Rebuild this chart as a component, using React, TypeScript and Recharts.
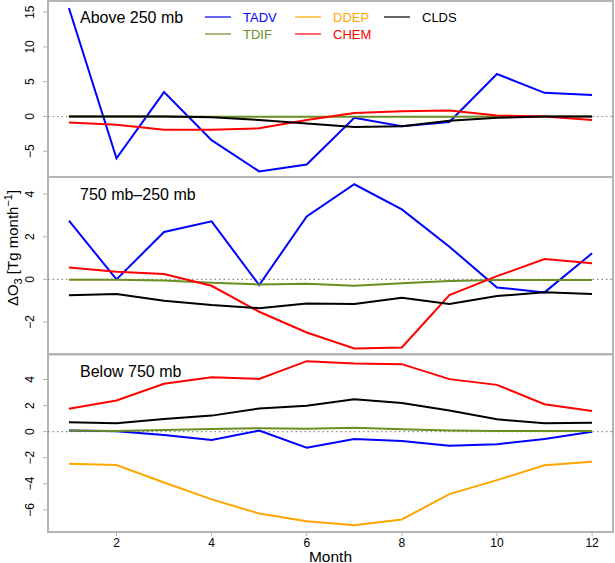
import React from 'react';
import { LineChart, Line, XAxis, YAxis, ReferenceLine, ReferenceArea } from 'recharts';

const months = [1, 2, 3, 4, 5, 6, 7, 8, 9, 10, 11, 12];
const monthTicks = [2, 4, 6, 8, 10, 12];

// Above 250 mb
const tadvHigh = [15.6, -6.0, 3.5, -3.4, -7.9, -6.9, -0.2, -1.4, -0.8, 6.1, 3.4, 3.1];
const tdifHigh = [0, 0, 0, -0.05, -0.05, -0.05, -0.05, -0.05, -0.05, 0, 0, 0];
const chemHigh = [-0.85, -1.2, -1.9, -1.9, -1.7, -0.5, 0.5, 0.75, 0.85, 0.15, 0, -0.5];
const cldsHigh = [0, 0, 0, -0.1, -0.5, -1.0, -1.5, -1.4, -0.6, -0.2, 0, 0];

// 750 mb - 250 mb
const tadvMid = [2.75, 0, 2.22, 2.72, -0.27, 2.95, 4.46, 3.28, 1.53, -0.38, -0.61, 1.22];
const tdifMid = [-0.02, -0.02, -0.05, -0.16, -0.24, -0.2, -0.3, -0.18, -0.08, -0.03, -0.03, -0.03];
const chemMid = [0.56, 0.36, 0.25, -0.3, -1.52, -2.49, -3.24, -3.19, -0.74, 0.15, 0.95, 0.75];
const cldsMid = [-0.74, -0.69, -1.0, -1.2, -1.35, -1.13, -1.16, -0.86, -1.16, -0.78, -0.61, -0.69];

// Below 750 mb
const tadvLow = [0.08, 0.03, -0.25, -0.64, 0.08, -1.23, -0.56, -0.72, -1.08, -0.97, -0.56, 0];
const tdifLow = [0.08, 0.05, 0.12, 0.2, 0.27, 0.22, 0.3, 0.18, 0.08, 0.05, 0.05, 0.05];
const ddepLow = [-2.46, -2.56, -3.9, -5.2, -6.28, -6.87, -7.18, -6.74, -4.79, -3.72, -2.58, -2.31];
const chemLow = [1.75, 2.39, 3.67, 4.18, 4.05, 5.41, 5.23, 5.18, 4.03, 3.59, 2.1, 1.59];
const cldsLow = [0.72, 0.64, 0.97, 1.23, 1.77, 1.98, 2.49, 2.2, 1.62, 0.95, 0.64, 0.69];

const COLORS: Record<string, string> = {
  TADV: '#0000ff',
  TDIF: '#6b8e23',
  DDEP: '#ffa500',
  CHEM: '#ff0000',
  CLDS: '#000000',
};
const DRAW_ORDER = ['TADV', 'DDEP', 'TDIF', 'CHEM', 'CLDS'];
const FONT = '"Liberation Sans", Arial, Helvetica, sans-serif';
const FRAME = '#b3b3b3';
const X_DOMAIN: [number, number] = [0.56, 12.44];

function rows(series: Record<string, number[]>) {
  return months.map((m, i) => {
    const row: Record<string, number> = { month: m };
    Object.keys(series).forEach((k) => (row[k] = series[k][i]));
    return row;
  });
}

const panels = [
  {
    title: 'Above 250 mb',
    data: rows({ TADV: tadvHigh, TDIF: tdifHigh, CHEM: chemHigh, CLDS: cldsHigh }),
    keys: ['TADV', 'TDIF', 'CHEM', 'CLDS'],
    domain: [-8.7, 16.6] as [number, number],
    ticks: [-5, 0, 5, 10, 15],
    top: 0,
    height: 177,
    marginTop: 1,
    showX: false,
  },
  {
    title: '750 mb\u2013250 mb',
    data: rows({ TADV: tadvMid, TDIF: tdifMid, CHEM: chemMid, CLDS: cldsMid }),
    keys: ['TADV', 'TDIF', 'CHEM', 'CLDS'],
    domain: [-3.5, 4.8] as [number, number],
    ticks: [-2, 0, 2, 4],
    top: 177,
    height: 177,
    marginTop: 0,
    showX: false,
  },
  {
    title: 'Below 750 mb',
    data: rows({ TADV: tadvLow, TDIF: tdifLow, DDEP: ddepLow, CHEM: chemLow, CLDS: cldsLow }),
    keys: ['TADV', 'DDEP', 'TDIF', 'CHEM', 'CLDS'],
    domain: [-7.7, 5.92] as [number, number],
    ticks: [-6, -4, -2, 0, 2, 4],
    top: 354,
    height: 209,
    marginTop: 0.5,
    showX: true,
  },
];

const legendItems = [
  { name: 'TADV', x: 243, y: 17 },
  { name: 'TDIF', x: 243, y: 34 },
  { name: 'DDEP', x: 333, y: 17 },
  { name: 'CHEM', x: 333, y: 34 },
  { name: 'CLDS', x: 422, y: 17 },
];

const fmt = (v: number) => (v < 0 ? '\u2212' + Math.abs(v) : String(v));

function YTick(props: any) {
  const { y, payload } = props;
  return (
    <text
      transform={`translate(34,${y}) rotate(-90)`}
      textAnchor="middle"
      fontSize={12}
      fontFamily={FONT}
      fill="#000"
    >
      {fmt(payload.value)}
    </text>
  );
}

function Panel({ p }: { p: (typeof panels)[number] }) {
  return (
    <div style={{ position: 'absolute', left: 0, top: p.top }}>
      <LineChart
        width={615}
        height={p.height}
        data={p.data}
        margin={{ top: p.marginTop, right: 2, bottom: 0, left: 0 }}
      >
        <XAxis
          dataKey="month"
          type="number"
          domain={X_DOMAIN}
          ticks={monthTicks}
          hide={!p.showX}
          height={31}
          axisLine={false}
          tickSize={4}
          tickMargin={2}
          tickLine={{ stroke: FRAME }}
          tick={{ fontSize: 12, fill: '#000', fontFamily: FONT }}
          label={{ value: 'Month', position: 'insideBottom', offset: 1.5, fontSize: 15.5, fill: '#000', fontFamily: FONT }}
          allowDataOverflow
        />
        <YAxis
          type="number"
          domain={p.domain}
          ticks={p.ticks}
          width={48}
          axisLine={false}
          tickSize={5}
          tickLine={{ stroke: FRAME }}
          tick={<YTick />}
          allowDataOverflow
        />
        <ReferenceLine y={0} stroke="#8c8c8c" strokeWidth={1.2} strokeDasharray="1.5 3" />
        {DRAW_ORDER.filter((k) => p.keys.includes(k)).map((k) => (
          <Line
            key={k}
            dataKey={k}
            stroke={COLORS[k]}
            strokeWidth={2}
            dot={false}
            activeDot={false}
            type="linear"
            isAnimationActive={false}
          />
        ))}
        <ReferenceArea
          x1={X_DOMAIN[0]}
          x2={X_DOMAIN[1]}
          y1={p.domain[0]}
          y2={p.domain[1]}
          fill="none"
          fillOpacity={0}
          stroke={FRAME}
          strokeWidth={2}
          ifOverflow="visible"
        />
      </LineChart>
    </div>
  );
}

export default function App() {
  return (
    <div style={{ position: 'relative', width: 615, height: 563, background: '#fff', fontFamily: FONT }}>
      <style>{'body{margin:0;}'}</style>
      {panels.map((p) => (
        <Panel key={p.title} p={p} />
      ))}
      <svg
        width={615}
        height={563}
        style={{ position: 'absolute', left: 0, top: 0, pointerEvents: 'none' }}
        fontFamily={FONT}
      >
        {panels.map((p) => (
          <text key={p.title} x={80} y={p.top + 22.5} fontSize={16} fill="#000">
            {p.title}
          </text>
        ))}
        {legendItems.map((it) => (
          <g key={it.name}>
            <line x1={it.x - 38} x2={it.x - 12} y1={it.y} y2={it.y} stroke={COLORS[it.name]} strokeWidth={1.2} />
            <text x={it.x} y={it.y + 4.7} fontSize={13} fill={COLORS[it.name]}>
              {it.name}
            </text>
          </g>
        ))}
        <text transform="translate(18,248) rotate(-90)" textAnchor="middle" fontSize={15} fill="#000">
          <tspan>{'\u0394O'}</tspan>
          <tspan fontSize={11} dy={4}>3</tspan>
          <tspan dy={-4}>{' [Tg month'}</tspan>
          <tspan fontSize={11} dy={-6}>{'\u22121'}</tspan>
          <tspan dy={6}>]</tspan>
        </text>
      </svg>
    </div>
  );
}
